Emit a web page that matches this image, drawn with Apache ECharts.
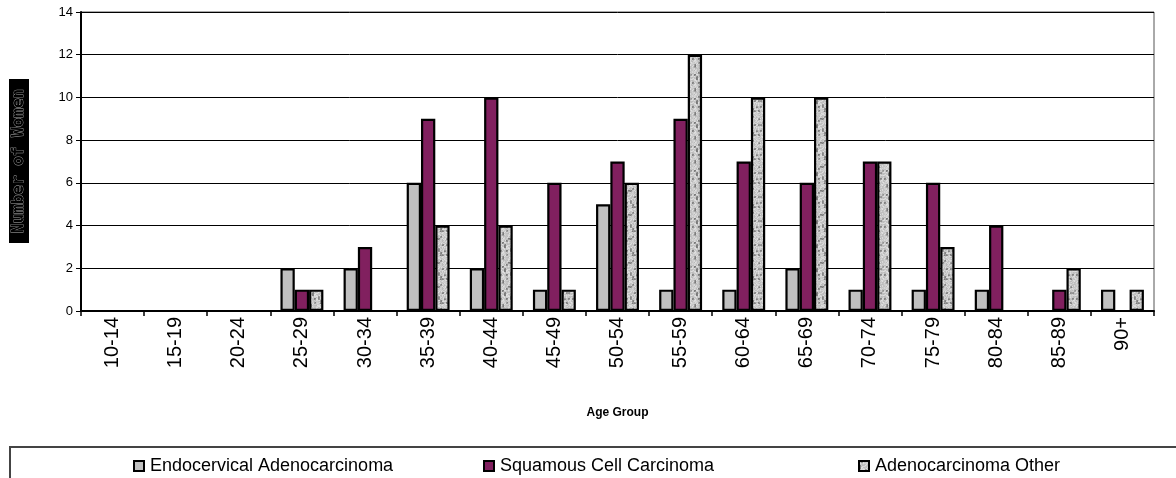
<!DOCTYPE html>
<html>
<head>
<meta charset="utf-8">
<script src="https://cdn.jsdelivr.net/npm/echarts@6/dist/echarts.min.js"></script>
<style>
html,body{margin:0;padding:0;background:#fff;}
#chart{width:1176px;height:478px;}
</style>
</head>
<body>
<div id="chart"></div>
<script>
const categories = ['10-14','15-19','20-24','25-29','30-34','35-39','40-44','45-49','50-54','55-59','60-64','65-69','70-74','75-79','80-84','85-89','90+'];
const endocervical = [0,0,0,2,2,6,2,1,5,1,1,2,1,1,1,0,1];
const squamous = [0,0,0,1,3,9,10,6,7,9,7,6,7,6,4,1,0];
const adenoOther = [0,0,0,1,0,4,4,1,6,12,10,10,7,3,0,2,1];
const seriesNames = ['Endocervical Adenocarcinoma','Squamous Cell Carcinoma','Adenocarcinoma Other'];
const yTicks = {min:0, max:14, interval:2};

// speckled gray texture (fixed deterministic pattern, purely decorative)
function makeTexture(){
  const n = 24;
  const c = document.createElement('canvas');
  c.width = n; c.height = n;
  const ctx = c.getContext('2d');
  for(let y=0;y<n;y++)for(let x=0;x<n;x++){
    const h = Math.abs(Math.sin(x*12.9898 + y*78.233) * 43758.5453) % 1;
    const h2 = Math.abs(Math.sin((x>>1)*7.13 + (y>>1)*3.71) * 9631.7) % 1;
    let v = 205 + Math.round((h-0.5)*40);
    if(h2 > 0.8) v = 120 + Math.round(h*50);
    ctx.fillStyle='rgb('+v+','+v+','+v+')';ctx.fillRect(x,y,1,1);
  }
  return c;
}
const tex = makeTexture();

const chart = echarts.init(document.getElementById('chart'), null, {renderer:'canvas'});
const font = 'Liberation Sans, Arial, sans-serif';
const barBase = {type:'bar', barGap:'0%', barCategoryGap:'32%', animation:false};
chart.setOption({
  backgroundColor:'#fff',
  animation:false,
  textStyle:{fontFamily:font},
  grid:{left:81, right:22, top:12, bottom:167, show:true, borderColor:'#555', borderWidth:1},
  legend:[
    {data:[seriesNames[0]], left:128, top:452},
    {data:[seriesNames[1]], left:478, top:452},
    {data:[seriesNames[2]], left:853, top:452}
  ].map(l=>Object.assign(l,{orient:'horizontal', itemWidth:10, itemHeight:10, itemGap:6,
      textStyle:{fontFamily:font, fontSize:18, color:'#000', padding:[0,0,0,1]}, icon:'rect'})),
  graphic:[
    {type:'rect', shape:{x:10, y:447, width:1190, height:60}, style:{fill:'none', stroke:'#444', lineWidth:2}, silent:true},
    {type:'group', x:19, y:161, rotation:Math.PI/2, children:[
      {type:'rect', shape:{x:-82, y:-10, width:164, height:20}, style:{fill:'#000'}},
      {type:'text', style:{text:'Number of Women', x:0, y:0, align:'center', verticalAlign:'middle',
        font:'bold 16px DejaVu Sans Mono, monospace', fill:'#000', stroke:'#aaa', lineWidth:0.8}}
    ]}
  ],
  xAxis:{
    type:'category', data:categories,
    axisLine:{lineStyle:{color:'#000', width:2}},
    axisTick:{show:true, length:5, alignWithLabel:false, lineStyle:{color:'#000', width:1.5}},
    axisLabel:{rotate:90, fontSize:20, color:'#000', margin:6, fontFamily:font, interval:0},
    name:'Age Group', nameLocation:'middle', nameGap:96,
    nameTextStyle:{fontSize:12, fontWeight:'bold', color:'#000', fontFamily:font, letterSpacing:1.5}
  },
  yAxis:{
    type:'value', min:yTicks.min, max:yTicks.max, interval:yTicks.interval,
    axisLine:{show:true, lineStyle:{color:'#000', width:2}},
    axisTick:{show:true, length:5, lineStyle:{color:'#000', width:1}},
    axisLabel:{fontSize:13, color:'#000', margin:8, fontFamily:font},
    splitLine:{show:true, lineStyle:{color:'#000', width:1}}
  },
  series:[
    Object.assign({}, barBase, {name:seriesNames[0], data:endocervical,
      itemStyle:{color:'#C0C0C0', borderColor:'#000', borderWidth:2.2}}),
    Object.assign({}, barBase, {name:seriesNames[1], data:squamous,
      itemStyle:{color:'#81205F', borderColor:'#000', borderWidth:2.2}}),
    Object.assign({}, barBase, {name:seriesNames[2], data:adenoOther,
      itemStyle:{color:{image:tex, repeat:'repeat'}, borderColor:'#000', borderWidth:2.2}})
  ]
});
</script>
</body>
</html>
